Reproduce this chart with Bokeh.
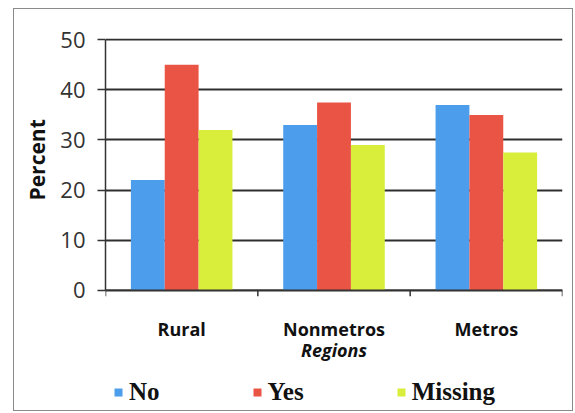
from bokeh.plotting import figure
from bokeh.models import (ColumnDataSource, Range1d, FixedTicker, Label,
                          Legend, LegendItem, Span, Title)
from bokeh.embed import file_html
from bokeh.resources import INLINE

# Share of respondents per region, by answer
regions = ["Rural", "Nonmetros", "Metros"]
no_pct = [22, 33, 37]
yes_pct = [45, 37.5, 35]
missing_pct = [32, 29, 27.5]
series_names = ["No", "Yes", "Missing"]
series_colors = ["#4c9deb", "#ea5444", "#d8ee3a"]
y_ticks = [0, 10, 20, 30, 40, 50]

centers = [i + 0.5 for i in range(len(regions))]
bounds = list(range(len(regions) + 1))
bar_w = 2 / 9
offsets = [-bar_w, 0.0, bar_w]

# The frame reaches below zero so the region names and the key sit inside it;
# the value axis itself is bounded to 0..50.
Y_BOTTOM = -24.0
TICK_LEN = 1.2

p = figure(width=560, height=403, output_backend="svg", toolbar_location=None,
           x_range=Range1d(0, len(regions)), y_range=Range1d(Y_BOTTOM, 50.25),
           x_axis_location=None,
           min_border_left=89, min_border_right=12,
           min_border_top=29, min_border_bottom=2)
p.margin = (8, 0, 0, 13)
p.styles = {"border": "1px solid #8a8a8a"}
p.outline_line_color = None
p.background_fill_color = "white"
p.border_fill_color = "white"

renderers = []
for vals, off, color in zip([no_pct, yes_pct, missing_pct], offsets, series_colors):
    src = ColumnDataSource(dict(x=[c + off for c in centers], top=vals))
    r = p.vbar(x="x", top="top", width=bar_w, bottom=0, source=src,
               fill_color=color, line_color=None)
    renderers.append(r)

# y axis
p.yaxis.bounds = (0, 50)
p.yaxis.ticker = FixedTicker(ticks=y_ticks)
p.yaxis.major_label_text_font = "Open Sans"
p.yaxis.major_label_text_font_size = "22px"
p.yaxis.major_label_text_color = "#333333"
p.yaxis.major_label_standoff = 12
p.yaxis.major_tick_out = 8
p.yaxis.major_tick_in = 0
p.yaxis.minor_tick_line_color = None
p.yaxis.axis_line_color = "#333333"
p.yaxis.axis_line_width = 1.5
p.yaxis.major_tick_line_color = "#333333"
p.yaxis.major_tick_line_width = 1.5

# axis title, placed beside the 0..50 part of the frame
p.add_layout(Title(text="Percent", align="left", offset=210, standoff=13,
                   text_font="Open Sans", text_font_style="bold",
                   text_font_size="21px", text_color="#111111"), "left")

p.xgrid.grid_line_color = None
p.ygrid.ticker = FixedTicker(ticks=y_ticks)
p.ygrid.grid_line_color = "#2e2e2e"
p.ygrid.grid_line_width = 2

# category axis line at zero with tick marks between the groups
p.add_layout(Span(location=0, dimension="width", line_color="#333333",
                  line_width=1.5))
p.segment(x0=bounds, y0=[0] * len(bounds), x1=bounds,
          y1=[-TICK_LEN] * len(bounds), line_color="#333333", line_width=1.5)

for c, name in zip(centers, regions):
    p.add_layout(Label(x=c, y=0, y_offset=-39, text=name,
                       text_align="center", text_baseline="middle",
                       text_font="Open Sans", text_font_style="bold",
                       text_font_size="18px", text_color="#111111"))

p.add_layout(Label(x=len(regions) / 2, y=0, y_offset=-60, text="Regions",
                   text_align="center", text_baseline="middle",
                   text_font="Open Sans", text_font_style="bold italic",
                   text_font_size="18px", text_color="#111111"))

legend = Legend(items=[LegendItem(label=n, renderers=[r])
                       for n, r in zip(series_names, renderers)],
                orientation="horizontal", location=(8, 4),
                glyph_width=10, glyph_height=10, label_standoff=6,
                spacing=92, padding=0, margin=0,
                label_text_font="Liberation Serif", label_text_font_style="bold",
                label_text_font_size="25px", label_text_color="#111111",
                border_line_color=None, background_fill_alpha=0)
p.add_layout(legend, "center")

open("out.html", "w").write(file_html(p, INLINE))
